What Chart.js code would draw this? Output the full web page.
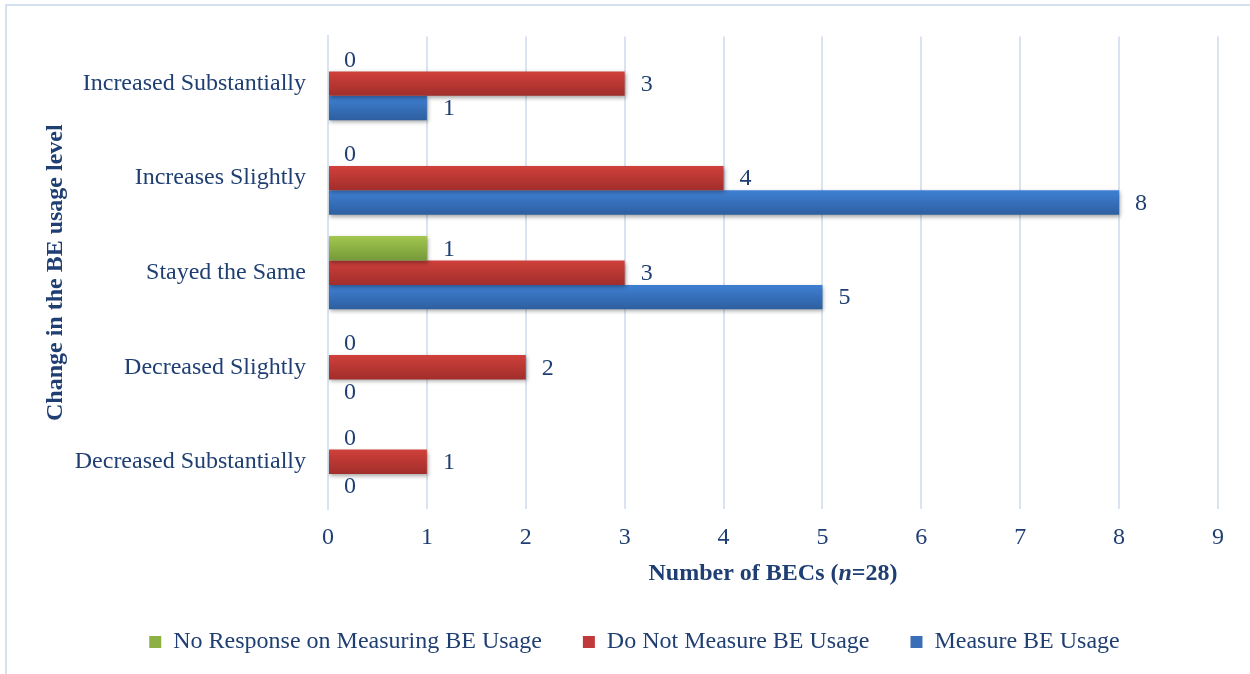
<!DOCTYPE html>
<html>
<head>
<meta charset="utf-8">
<script src="https://cdn.jsdelivr.net/npm/chart.js@4/dist/chart.umd.min.js"></script>
<style>
  html, body { margin: 0; padding: 0; background: #fff; }
  #wrap { width: 1250px; height: 674px; }
</style>
</head>
<body>
<div id="wrap"><canvas id="chart"></canvas></div>
<script>
const categories = [
  'Increased Substantially',
  'Increases Slightly',
  'Stayed the Same',
  'Decreased Slightly',
  'Decreased Substantially'
];
const noResponse = [0, 0, 1, 0, 0];
const doNotMeasure = [3, 4, 3, 2, 1];
const measure = [1, 8, 5, 0, 0];
const xTicks = [0, 1, 2, 3, 4, 5, 6, 7, 8, 9];
// x title pieces: plain, italic, plain
const xTitleParts = ['Number of BECs (', 'n', '=28)'];

const textColor = '#1F3F73';
const gridColor = '#D9E3F1';
const serif = "'Liberation Serif', 'Times New Roman', serif";

// top / bottom / flat colours of the bars
const shades = [
  ['#A3C74F', '#76993A', '#8DB045'],
  ['#D0403B', '#A12E2B', '#C0393B'],
  ['#3F80D4', '#2D5F9F', '#3A6FB8']
];

// vertical gradient on each bar, like the office-style bevel
const barGradient = {
  id: 'barGradient',
  beforeDatasetsDraw(chart) {
    const ctx = chart.ctx;
    chart.data.datasets.forEach((ds, i) => {
      chart.getDatasetMeta(i).data.forEach(bar => {
        const { y, height } = bar.getProps(['y', 'height'], true);
        const g = ctx.createLinearGradient(0, y - height / 2, 0, y + height / 2);
        g.addColorStop(0, shades[i][0]);
        g.addColorStop(1, shades[i][1]);
        bar.options.backgroundColor = g;
      });
    });
  },
  beforeDatasetDraw(chart) {
    const ctx = chart.ctx;
    ctx.save();
    ctx.shadowColor = 'rgba(0,0,0,0.35)';
    ctx.shadowBlur = 4;
    ctx.shadowOffsetX = 1;
    ctx.shadowOffsetY = 2;
  },
  afterDatasetDraw(chart) {
    chart.ctx.restore();
  }
};

const valueLabels = {
  id: 'valueLabels',
  afterDatasetsDraw(chart) {
    const ctx = chart.ctx;
    ctx.save();
    ctx.font = '24px ' + serif;
    ctx.fillStyle = textColor;
    ctx.textAlign = 'left';
    ctx.textBaseline = 'middle';
    chart.data.datasets.forEach((ds, i) => {
      chart.getDatasetMeta(i).data.forEach((bar, j) => {
        const { x, y } = bar.getProps(['x', 'y'], true);
        ctx.fillText(String(ds.data[j]), x + 16, y + 1);
      });
    });
    ctx.restore();
  }
};

// x axis title with the italic n
const xTitle = {
  id: 'xTitle',
  afterDraw(chart) {
    const ctx = chart.ctx;
    const area = chart.chartArea;
    const fonts = ['bold 24px ' + serif, 'italic bold 24px ' + serif, 'bold 24px ' + serif];
    ctx.save();
    ctx.fillStyle = textColor;
    ctx.textBaseline = 'middle';
    ctx.textAlign = 'left';
    const widths = xTitleParts.map((t, i) => { ctx.font = fonts[i]; return ctx.measureText(t).width; });
    let x = (area.left + area.right) / 2 - widths.reduce((a, b) => a + b, 0) / 2;
    const y = area.bottom + 65;
    xTitleParts.forEach((t, i) => {
      ctx.font = fonts[i];
      ctx.fillText(t, x, y);
      x += widths[i];
    });
    ctx.restore();
  }
};

const frame = {
  id: 'frame',
  beforeDraw(chart) {
    const ctx = chart.ctx;
    ctx.save();
    ctx.strokeStyle = '#D6E1EF';
    ctx.lineWidth = 2;
    ctx.beginPath();
    ctx.moveTo(6, 674);
    ctx.lineTo(6, 5);
    ctx.lineTo(1250, 5);
    ctx.stroke();
    ctx.restore();
  }
};

new Chart(document.getElementById('chart'), {
  type: 'bar',
  data: {
    labels: categories,
    datasets: [
      { label: 'No Response on Measuring BE Usage', data: noResponse, backgroundColor: () => shades[0][2] },
      { label: 'Do Not Measure BE Usage', data: doNotMeasure, backgroundColor: () => shades[1][2] },
      { label: 'Measure BE Usage', data: measure, backgroundColor: () => shades[2][2] }
    ]
  },
  options: {
    indexAxis: 'y',
    responsive: true,
    maintainAspectRatio: false,
    animation: false,
    events: [],
    categoryPercentage: 0.774,
    barPercentage: 1,
    layout: { padding: { top: 28, left: 51, right: 32, bottom: 10 } },
    scales: {
      x: {
        min: 0,
        max: 9,
        afterBuildTicks: (scale) => { scale.ticks = xTicks.map(v => ({ value: v })); },
        afterFit: (scale) => { scale.height = 80; },
        grid: { color: gridColor, lineWidth: 2, drawTicks: false },
        border: { display: false },
        ticks: {
          padding: 14,
          color: textColor,
          font: { family: serif, size: 24, lineHeight: 1.2 }
        }
      },
      y: {
        afterFit: (scale) => { scale.width = 277; },
        grid: { display: false, drawTicks: false },
        border: { display: true, color: gridColor, width: 2 },
        ticks: {
          padding: 22,
          color: textColor,
          font: { family: serif, size: 24, lineHeight: 1.2 }
        },
        title: {
          display: true,
          text: 'Change in the BE usage level',
          color: textColor,
          font: { family: serif, size: 24, weight: 'bold', lineHeight: 1.2 },
          padding: { top: -10, bottom: 0 }
        }
      }
    },
    plugins: {
      legend: {
        position: 'bottom',
        labels: {
          color: textColor,
          boxWidth: 12,
          boxHeight: 12,
          padding: 41,
          font: { family: serif, size: 24, lineHeight: 1.2 },
          generateLabels: (chart) => chart.data.datasets.map((ds, i) => ({
            text: ds.label,
            fillStyle: shades[i][2],
            strokeStyle: shades[i][2],
            lineWidth: 0,
            fontColor: textColor,
            datasetIndex: i
          }))
        }
      },
      tooltip: { enabled: false }
    }
  },
  plugins: [frame, barGradient, valueLabels, xTitle]
});
</script>
</body>
</html>
